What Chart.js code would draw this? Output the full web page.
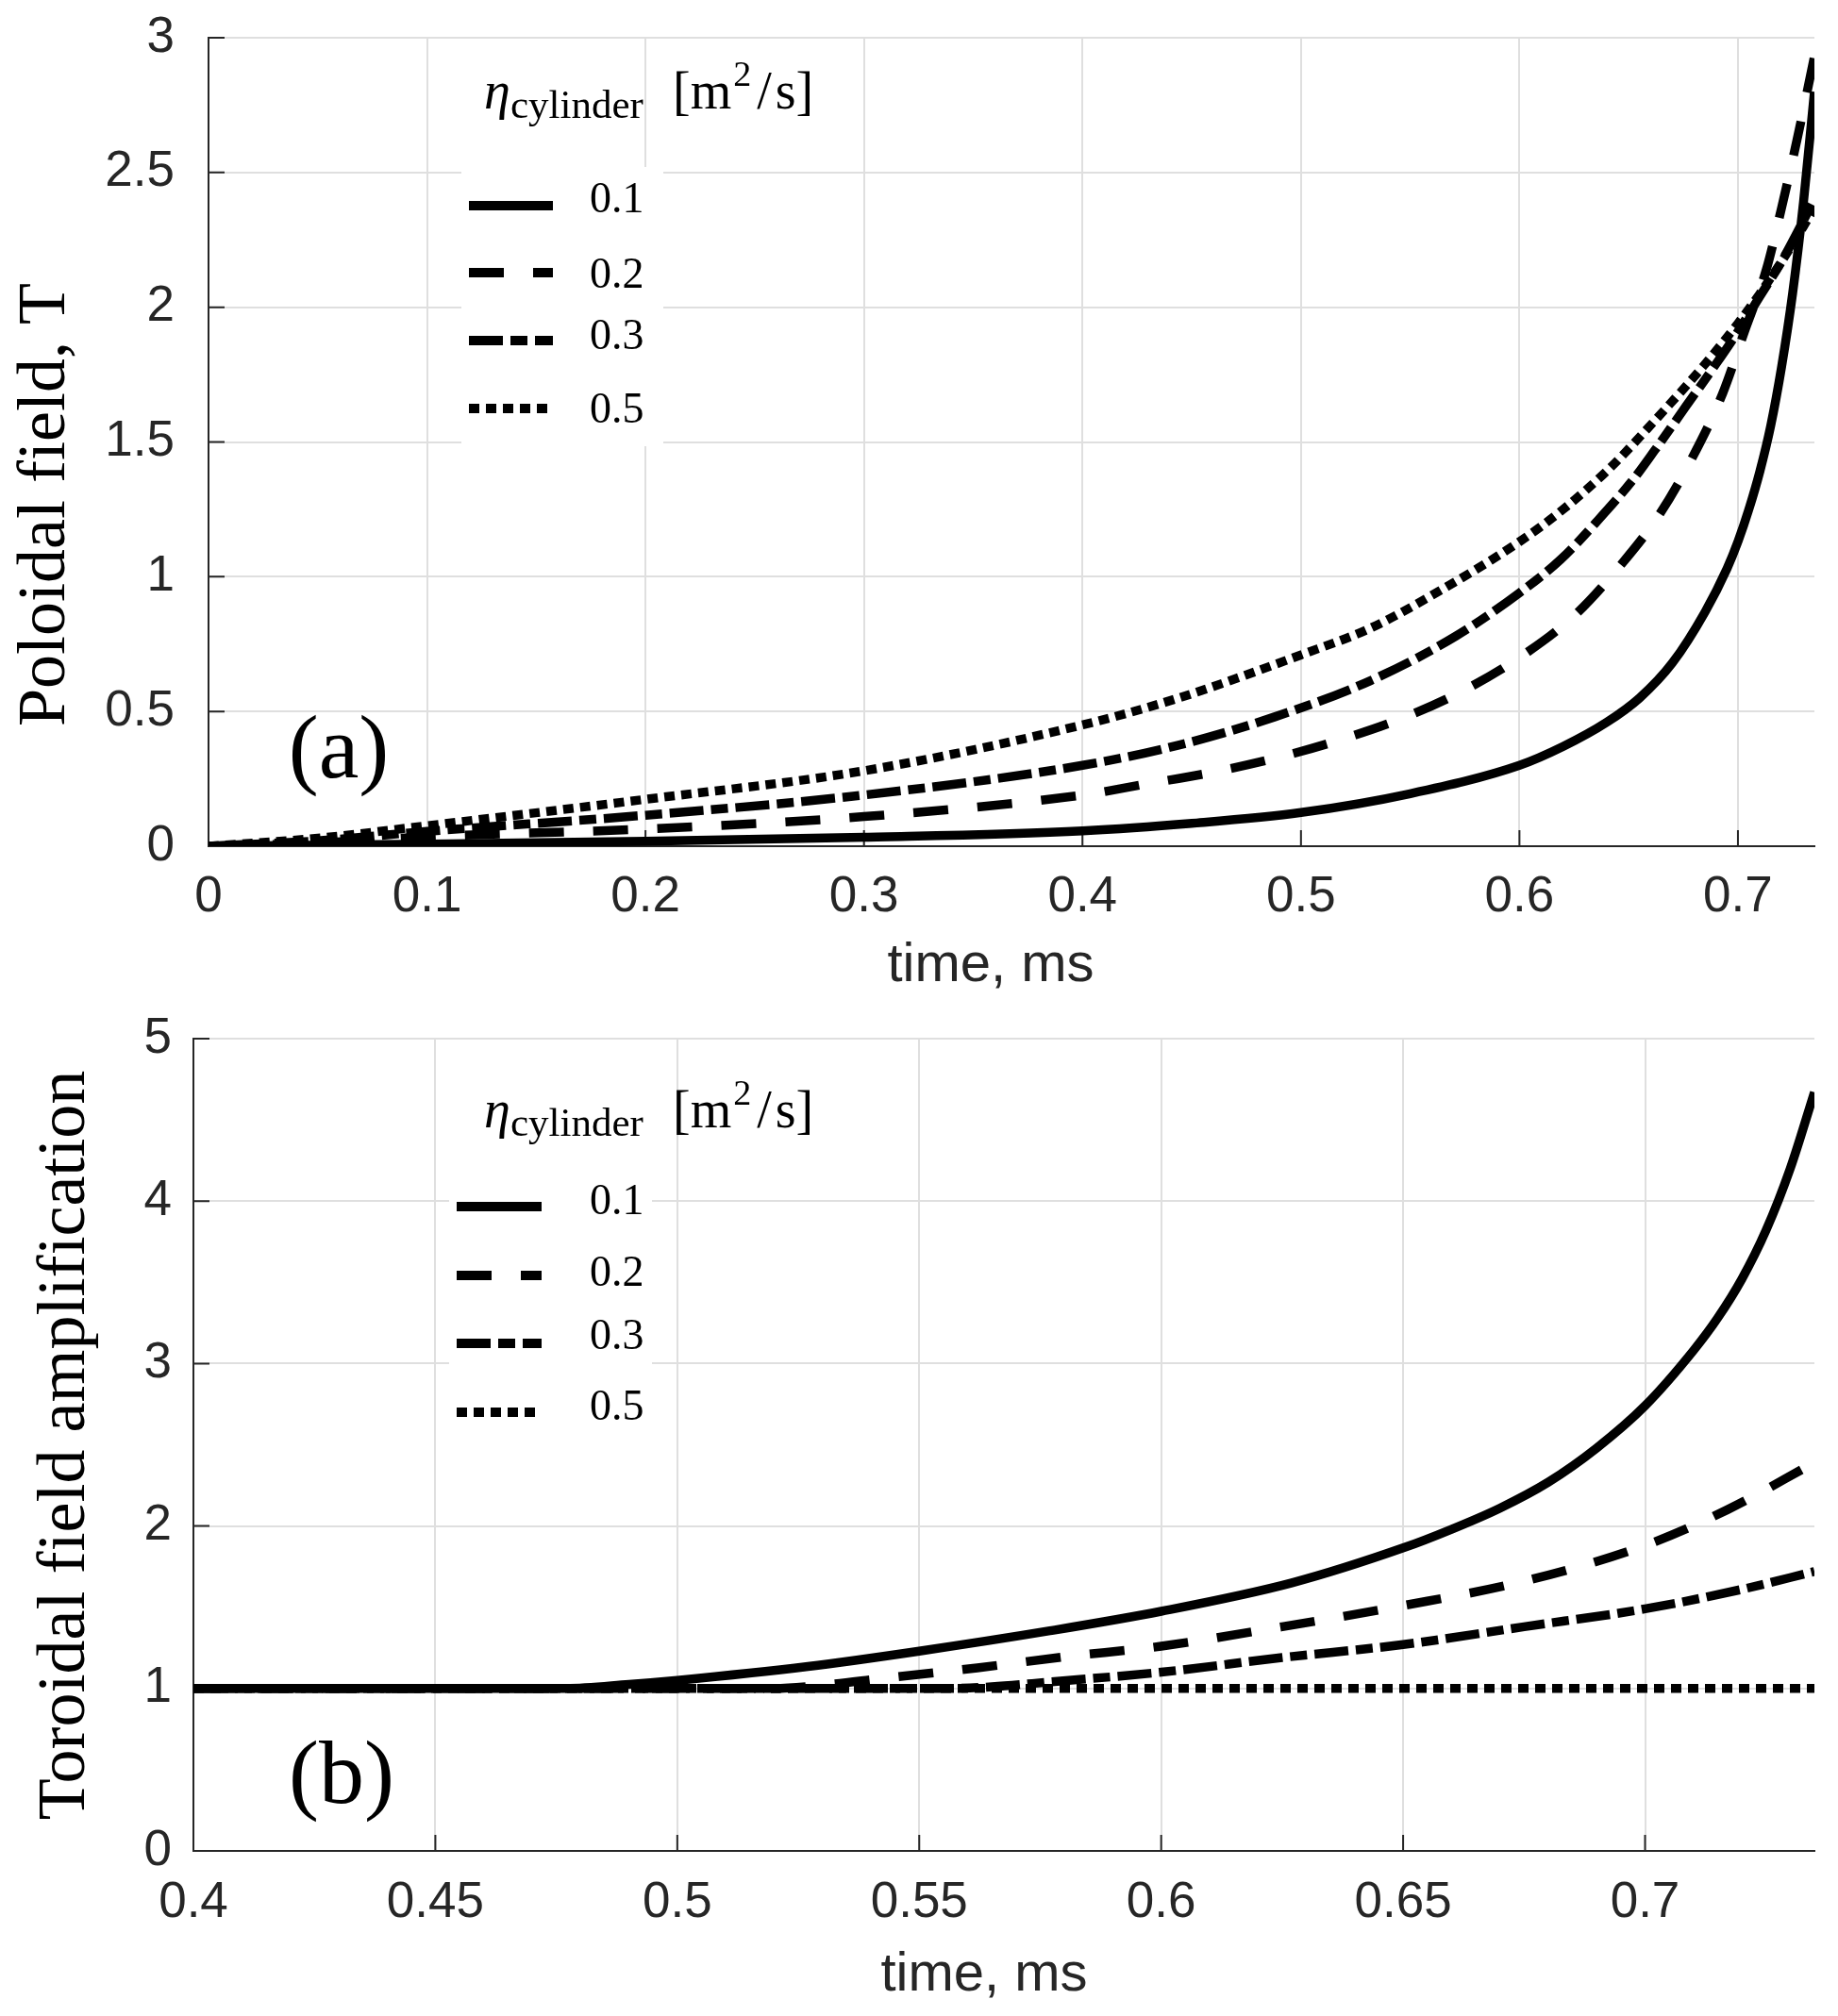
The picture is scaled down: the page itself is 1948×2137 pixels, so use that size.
<!DOCTYPE html>
<html>
<head>
<meta charset="utf-8">
<script src="https://cdn.jsdelivr.net/npm/chart.js@4/dist/chart.umd.min.js"></script>
<style>
html, body { margin: 0; padding: 0; background: #fff; }
#wrapTop { position: absolute; left: 0; top: 0; width: 1948px; height: 1060px; }
#wrapBot { position: absolute; left: 0; top: 1060px; width: 1948px; height: 1077px; }
</style>
</head>
<body>
<div id="wrapTop"><canvas id="poloidal"></canvas></div>
<div id="wrapBot"><canvas id="toroidal"></canvas></div>
<script>
// legend labels (eta_cylinder, m^2/s)
const etaLabels = ['0.1', '0.2', '0.3', '0.5'];

// (a) poloidal field, T  vs time, ms
const polTicksX = [0, 0.1, 0.2, 0.3, 0.4, 0.5, 0.6, 0.7];
const polTicksY = [0, 0.5, 1, 1.5, 2, 2.5, 3];
const polT1 = [0, 0.1, 0.2, 0.3, 0.4, 0.45, 0.5, 0.55, 0.6, 0.62, 0.64, 0.655, 0.67, 0.685, 0.695, 0.7, 0.705, 0.71, 0.715, 0.72, 0.725, 0.73, 0.735];
const polB1 = [0, 0.008, 0.018, 0.033, 0.057, 0.085, 0.125, 0.195, 0.30, 0.37, 0.46, 0.55, 0.68, 0.87, 1.03, 1.13, 1.25, 1.39, 1.56, 1.78, 2.05, 2.39, 2.8];
const polT2 = [0, 0.05, 0.1, 0.2, 0.3, 0.4, 0.43, 0.46, 0.49, 0.52, 0.548, 0.575, 0.6, 0.625, 0.646, 0.664, 0.679, 0.693, 0.703, 0.713, 0.72, 0.727, 0.735];
const polB2 = [0, 0.012, 0.035, 0.064, 0.11, 0.19, 0.232, 0.275, 0.33, 0.40, 0.48, 0.58, 0.70, 0.855, 1.04, 1.23, 1.44, 1.68, 1.91, 2.14, 2.37, 2.62, 2.93];
const polT3 = [0, 0.05, 0.1, 0.2, 0.3, 0.4, 0.444, 0.488, 0.532, 0.571, 0.6, 0.619, 0.636, 0.652, 0.662, 0.676, 0.69, 0.7, 0.71, 0.72, 0.735];
const polB3 = [0, 0.02, 0.055, 0.115, 0.19, 0.30, 0.375, 0.48, 0.615, 0.78, 0.94, 1.065, 1.21, 1.36, 1.47, 1.63, 1.79, 1.91, 2.04, 2.17, 2.40];
const polT5 = [0, 0.05, 0.1, 0.2, 0.3, 0.4, 0.444, 0.5, 0.532, 0.564, 0.6, 0.62, 0.641, 0.662, 0.684, 0.7, 0.71, 0.72, 0.73, 0.735];
const polB5 = [0, 0.03, 0.076, 0.174, 0.28, 0.45, 0.55, 0.71, 0.81, 0.95, 1.13, 1.25, 1.40, 1.58, 1.78, 1.94, 2.05, 2.17, 2.30, 2.37];

// (b) toroidal field amplification vs time, ms
const torTicksX = [0.4, 0.45, 0.5, 0.55, 0.6, 0.65, 0.7];
const torTicksY = [0, 1, 2, 3, 4, 5];
const torT1 = [0.4, 0.45, 0.477, 0.49, 0.5, 0.527, 0.55, 0.577, 0.6, 0.627, 0.65, 0.66, 0.67, 0.68, 0.69, 0.7, 0.71, 0.715, 0.72, 0.725, 0.73, 0.735];
const torA1 = [1.0, 1.0, 1.0, 1.025, 1.05, 1.135, 1.23, 1.355, 1.475, 1.65, 1.865, 1.98, 2.11, 2.27, 2.48, 2.74, 3.08, 3.28, 3.52, 3.82, 4.2, 4.67];
const torT2 = [0.4, 0.5, 0.52, 0.53, 0.542, 0.562, 0.58, 0.6, 0.625, 0.65, 0.675, 0.7, 0.717, 0.735];
const torA2 = [1.0, 1.0, 1.0, 1.02, 1.06, 1.127, 1.195, 1.26, 1.38, 1.51, 1.66, 1.88, 2.1, 2.39];
const torT3 = [0.4, 0.555, 0.565, 0.577, 0.6, 0.625, 0.65, 0.675, 0.7, 0.72, 0.735];
const torA3 = [1.0, 1.0, 1.01, 1.04, 1.10, 1.19, 1.27, 1.38, 1.49, 1.61, 1.72];
const torT5 = [0.4, 0.5, 0.6, 0.7, 0.735];
const torA5 = [1.0, 1.0, 1.0, 1.0, 1.0];

const axisColor = '#262626';
const gridColor = '#dfdfdf';
const sansFont = '"Liberation Sans", Arial, sans-serif';
const serifFont = '"Liberation Serif", "Times New Roman", serif';
const dashes = [[], [37, 31], [36, 8, 18, 8], [11, 7]];

function pts(t, v) {
  return t.map((x, i) => ({x: x, y: v[i]}));
}

function makeSets(series) {
  return series.map((s, i) => ({
    label: etaLabels[i],
    data: pts(s[0], s[1]),
    borderColor: '#000',
    borderWidth: 9.5,
    borderDash: dashes[i],
    borderCapStyle: 'butt',
    pointRadius: 0,
    cubicInterpolationMode: 'monotone',
    fill: false
  }));
}

function decor(d) {
  return {
    id: 'decor',
    beforeDatasetsDraw(chart) {
      const ctx = chart.ctx, a = chart.chartArea;
      const xs = chart.scales.x, ys = chart.scales.y;
      ctx.save();
      // white legend box hides the grid
      ctx.fillStyle = '#fff';
      ctx.fillRect(d.box[0], d.box[1], d.box[2], d.box[3]);
      // inward tick marks
      ctx.strokeStyle = axisColor;
      ctx.lineWidth = 2;
      ctx.beginPath();
      xs.ticks.forEach(t => {
        const p = xs.getPixelForValue(t.value);
        ctx.moveTo(p, a.bottom); ctx.lineTo(p, a.bottom - 17);
      });
      ys.ticks.forEach(t => {
        const p = ys.getPixelForValue(t.value);
        ctx.moveTo(a.left, p); ctx.lineTo(a.left + 17, p);
      });
      ctx.stroke();
      ctx.restore();
    },
    afterDatasetsDraw(chart) {
      const ctx = chart.ctx;
      ctx.save();
      ctx.fillStyle = '#000';
      ctx.strokeStyle = '#000';
      // legend entries
      chart.data.datasets.forEach((ds, i) => {
        ctx.lineWidth = 10;
        ctx.lineCap = 'butt';
        ctx.setLineDash(ds.borderDash);
        ctx.beginPath();
        ctx.moveTo(d.lineX[0], d.lineY[i]);
        ctx.lineTo(d.lineX[1], d.lineY[i]);
        ctx.stroke();
        ctx.setLineDash([]);
        ctx.font = '46px ' + serifFont;
        ctx.textAlign = 'left';
        ctx.textBaseline = 'alphabetic';
        ctx.fillText(ds.label, d.textX, d.textBase[i]);
      });
      // legend title: eta_cylinder [m^2/s]
      ctx.textAlign = 'left';
      ctx.textBaseline = 'alphabetic';
      ctx.font = 'italic 56px ' + serifFont;
      ctx.fillText('η', d.etaX, d.mainBase);
      ctx.font = '43px ' + serifFont;
      ctx.fillText('cylinder', d.etaX + 28, d.subBase);
      let x = d.unitX;
      ctx.font = '56px ' + serifFont;
      ctx.fillText('[m', x, d.mainBase);
      x += ctx.measureText('[m').width + 2;
      ctx.font = '38px ' + serifFont;
      ctx.fillText('2', x, d.mainBase - 24);
      x += ctx.measureText('2').width + 6;
      ctx.font = '56px ' + serifFont;
      ctx.fillText('/', x, d.mainBase);
      x += ctx.measureText('/').width + 4;
      ctx.fillText('s]', x, d.mainBase);
      // panel label
      ctx.font = '96px ' + serifFont;
      ctx.textAlign = 'center';
      ctx.textBaseline = 'middle';
      ctx.fillText(d.panel, d.panelXY[0], d.panelXY[1]);
      // x axis title
      ctx.fillStyle = axisColor;
      ctx.font = '58px ' + sansFont;
      ctx.fillText('time, ms', d.xTitle[0], d.xTitle[1]);
      // y axis title
      ctx.fillStyle = '#000';
      ctx.font = '72px ' + serifFont;
      ctx.textBaseline = 'alphabetic';
      ctx.translate(d.yTitle[0], d.yTitle[1]);
      ctx.rotate(-Math.PI / 2);
      ctx.fillText(d.yText, 0, 0);
      ctx.restore();
    }
  };
}

function build(id, cfg) {
  return new Chart(document.getElementById(id), {
    type: 'line',
    data: {datasets: makeSets(cfg.series)},
    options: {
      responsive: true,
      maintainAspectRatio: false,
      devicePixelRatio: 1,
      animation: false,
      layout: {padding: {left: 0, top: cfg.padTop, right: 25, bottom: 0}},
      plugins: {legend: {display: false}, tooltip: {enabled: false}},
      scales: {
        x: {
          type: 'linear',
          min: cfg.xMin, max: cfg.xMax,
          afterBuildTicks: s => { s.ticks = cfg.ticksX.map(v => ({value: v})); },
          afterFit: s => { s.height = cfg.xHeight; },
          grid: {color: gridColor, lineWidth: 2, drawTicks: false},
          border: {display: true, color: axisColor, width: 2},
          ticks: {color: axisColor, font: {family: sansFont, size: 53}, padding: cfg.xPad,
                  maxRotation: 0, autoSkip: false, callback: v => String(v)}
        },
        y: {
          type: 'linear',
          min: cfg.yMin, max: cfg.yMax,
          afterBuildTicks: s => { s.ticks = cfg.ticksY.map(v => ({value: v})); },
          afterFit: s => { s.width = cfg.yWidth; },
          // the label gap is made with an invisible tick so it does not push the plot top down
          grid: {color: gridColor, lineWidth: 2, drawTicks: true, tickLength: cfg.yGap, tickColor: 'rgba(0,0,0,0)'},
          border: {display: true, color: axisColor, width: 2},
          ticks: {color: axisColor, font: {family: sansFont, size: 53}, padding: 0,
                  autoSkip: false, callback: v => String(v)}
        }
      }
    },
    plugins: [decor(cfg.decor)]
  });
}

build('poloidal', {
  series: [[polT1, polB1], [polT2, polB2], [polT3, polB3], [polT5, polB5]],
  xMin: 0, xMax: 0.735, yMin: 0, yMax: 3,
  ticksX: polTicksX, ticksY: polTicksY,
  padTop: 40, xHeight: 163, yWidth: 221, xPad: 23, yGap: 36,
  decor: {
    box: [489, 177, 214, 296],
    lineX: [497, 586], lineY: [218, 289, 361, 433],
    textX: 625, textBase: [225, 305, 370, 448],
    etaX: 513, mainBase: 115, subBase: 125, unitX: 713,
    panel: '(a)', panelXY: [359, 799],
    xTitle: [1050, 1024],
    yTitle: [68, 535], yText: 'Poloidal field, T'
  }
});

build('toroidal', {
  series: [[torT1, torA1], [torT2, torA2], [torT3, torA3], [torT5, torA5]],
  xMin: 0.4, xMax: 0.735, yMin: 0, yMax: 5,
  ticksX: torTicksX, ticksY: torTicksY,
  padTop: 41, xHeight: 175, yWidth: 205, xPad: 24, yGap: 23,
  decor: {
    box: [476, 180, 215, 297],
    lineX: [484, 574], lineY: [219, 292, 364, 437],
    textX: 625, textBase: [227, 303, 370, 445],
    etaX: 513, mainBase: 135, subBase: 144, unitX: 713,
    panel: '(b)', panelXY: [362, 826],
    xTitle: [1043, 1034],
    yTitle: [89, 472], yText: 'Toroidal field amplification'
  }
});
</script>
</body>
</html>
